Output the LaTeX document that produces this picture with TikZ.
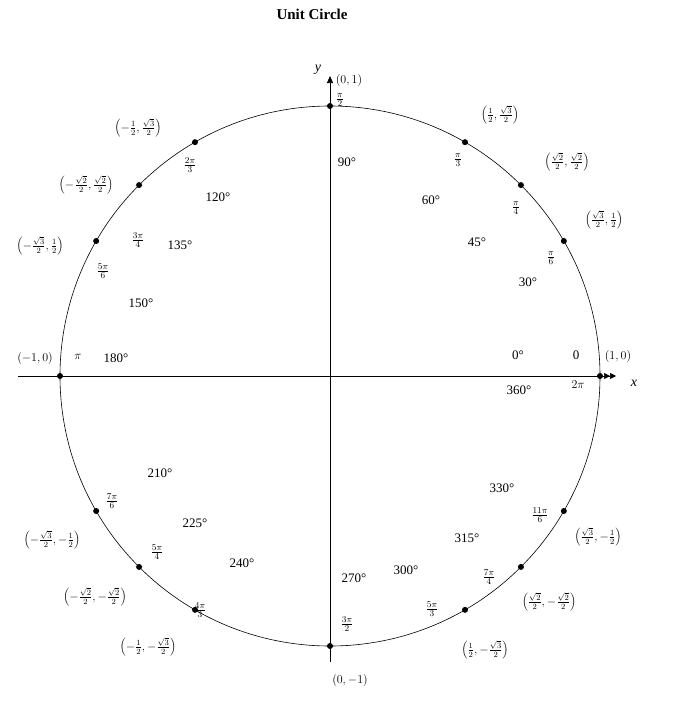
\documentclass[tikz,border=0pt]{standalone}
\usepackage{fontspec}
\setmainfont{Liberation Serif}
\usetikzlibrary{arrows.meta,calc}
\begin{document}
\begin{tikzpicture}[x=1pt,y=-1pt,
  lbl/.style={inner sep=0pt,font=\fontsize{13}{15}\selectfont},
  crd/.style={inner sep=0pt,font=\fontsize{12}{14}\selectfont},
  dot/.style={circle,fill=black,inner sep=0pt,minimum size=6pt}]
\useasboundingbox (0,0) rectangle (672,717);
\node[font=\fontsize{15}{17}\selectfont\bfseries] (title) at (312,14) {Unit Circle};
\coordinate (O) at (330,376);
\draw[line width=0.6pt] (O) circle (270);
\coordinate (xl) at (18,376); \coordinate (xr) at (616,376);
\coordinate (yb) at (330,662); \coordinate (yt) at (330,76);
\draw[line width=0.7pt,-{Triangle[length=6pt,width=6pt]Triangle[length=6pt,width=6pt]}] (xl) -- (xr);
\draw[line width=0.7pt,-{Triangle[length=7pt,width=6pt]}] (yb) -- (yt);
\node[lbl,font=\fontsize{14}{16}\selectfont\itshape] (xlab) at (634,383) {x};
\node[lbl,font=\fontsize{14}{16}\selectfont\itshape] (ylab) at (318,70) {y};
\foreach \a/\n in {0/p0,30/p30,45/p45,60/p60,90/p90,120/p120,135/p135,150/p150,180/p180,210/p210,225/p225,240/p240,270/p270,300/p300,315/p315,330/p330}
  \node[dot] (\n) at ($(330,376)+({270*cos(\a)},{-270*sin(\a)})$) {};
% labels
\node[crd] (c90) at (349,80) {$(0,1)$};
\node[lbl] (r90) at (340,100) {$\frac{\pi}{2}$};
\node[lbl] (d90) at (347,162) {90°};
\node[crd] (c60) at (500,115) {$\left(\frac{1}{2},\frac{\sqrt{3}}{2}\right)$};
\node[lbl] (r60) at (458,160) {$\frac{\pi}{3}$};
\node[lbl] (d60) at (431,200) {60°};
\node[crd] (c45) at (567,162) {$\left(\frac{\sqrt{2}}{2},\frac{\sqrt{2}}{2}\right)$};
\node[lbl] (r45) at (516,208) {$\frac{\pi}{4}$};
\node[lbl] (d45) at (477,242) {45°};
\node[crd] (c30) at (604,220) {$\left(\frac{\sqrt{3}}{2},\frac{1}{2}\right)$};
\node[lbl] (r30) at (551,258) {$\frac{\pi}{6}$};
\node[lbl] (d30) at (528,282) {30°};
\node[crd] (c0) at (618,356) {$(1,0)$};
\node[lbl] (r0) at (576,355) {0};
\node[lbl] (d0) at (518,355) {0°};
\node[lbl] (d360) at (519,390) {360°};
\node[lbl] (r360) at (578,385) {$2\pi$};
\node[crd] (c180) at (35,358) {$(-1,0)$};
\node[lbl] (r180) at (78,357) {$\pi$};
\node[lbl] (d180) at (116,358) {180°};
\node[crd] (c120) at (138,128) {$\left(-\frac{1}{2},\frac{\sqrt{3}}{2}\right)$};
\node[lbl] (r120) at (190,165) {$\frac{2\pi}{3}$};
\node[lbl] (d120) at (218,197) {120°};
\node[crd] (c135) at (86,185) {$\left(-\frac{\sqrt{2}}{2},\frac{\sqrt{2}}{2}\right)$};
\node[lbl] (r135) at (138,240) {$\frac{3\pi}{4}$};
\node[lbl] (d135) at (180,245) {135°};
\node[crd] (c150) at (40,246) {$\left(-\frac{\sqrt{3}}{2},\frac{1}{2}\right)$};
\node[lbl] (r150) at (103,271) {$\frac{5\pi}{6}$};
\node[lbl] (d150) at (141,303) {150°};
\node[lbl] (d210) at (160,473) {210°};
\node[lbl] (r210) at (112,501) {$\frac{7\pi}{6}$};
\node[crd] (c210) at (52,540) {$\left(-\frac{\sqrt{3}}{2},-\frac{1}{2}\right)$};
\node[lbl] (d225) at (195,523) {225°};
\node[lbl] (r225) at (157,552) {$\frac{5\pi}{4}$};
\node[crd] (c225) at (95,597) {$\left(-\frac{\sqrt{2}}{2},-\frac{\sqrt{2}}{2}\right)$};
\node[lbl] (d240) at (242,563) {240°};
\node[lbl] (r240) at (200,610) {$\frac{4\pi}{3}$};
\node[crd] (c240) at (148,647) {$\left(-\frac{1}{2},-\frac{\sqrt{3}}{2}\right)$};
\node[lbl] (d270) at (354,578) {270°};
\node[lbl] (r270) at (347,624) {$\frac{3\pi}{2}$};
\node[crd] (c270) at (350,680) {$(0,-1)$};
\node[lbl] (d300) at (406,570) {300°};
\node[lbl] (r300) at (432,609) {$\frac{5\pi}{3}$};
\node[crd] (c300) at (485,650) {$\left(\frac{1}{2},-\frac{\sqrt{3}}{2}\right)$};
\node[lbl] (d315) at (467,538) {315°};
\node[lbl] (r315) at (489,577) {$\frac{7\pi}{4}$};
\node[crd] (c315) at (549,602) {$\left(\frac{\sqrt{2}}{2},-\frac{\sqrt{2}}{2}\right)$};
\node[lbl] (d330) at (502,488) {330°};
\node[lbl] (r330) at (540,515) {$\frac{11\pi}{6}$};
\node[crd] (c330) at (598,537) {$\left(\frac{\sqrt{3}}{2},-\frac{1}{2}\right)$};
\end{tikzpicture}
\end{document}
